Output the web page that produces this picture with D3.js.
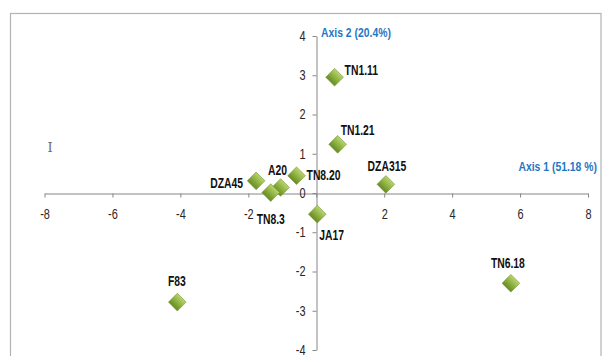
<!DOCTYPE html>
<html>
<head>
<meta charset="utf-8">
<script src="https://cdn.jsdelivr.net/npm/d3@7"></script>
<style>
  body { margin: 0; background: #fff; }
  svg { display: block; }
  text { font-family: "Liberation Sans", Arial, sans-serif; }
</style>
</head>
<body>
<svg id="chart" width="603" height="356"></svg>
<script>
// sample names and their coordinates on the two factorial axes
const samples = ["TN1.11", "TN1.21", "DZA315", "TN8.20", "A20", "DZA45", "TN8.3", "JA17", "F83", "TN6.18"];
const axis1 = [0.54, 0.63, 2.05, -0.58, -1.05, -1.77, -1.34, 0.03, -4.09, 5.73];
const axis2 = [2.95, 1.24, 0.22, 0.44, 0.14, 0.31, 0.01, -0.54, -2.78, -2.30];
const xTicks = [-8, -6, -4, -2, 0, 2, 4, 6, 8];
const yTicks = [-4, -3, -2, -1, 0, 1, 2, 3, 4];
const xTitle = "Axis 1 (51.18 %)";
const yTitle = "Axis 2 (20.4%)";

const svg = d3.select("#chart");

const x = d3.scaleLinear().domain([-8, 8]).range([44.5, 588]);
const y = d3.scaleLinear().domain([-4, 4]).range([350, 36]);

// squeeze a text horizontally, the source font is a narrow one
function condense(sel, k) {
    sel.each(function () {
        const w = this.getComputedTextLength();
        d3.select(this).attr("textLength", w * k).attr("lengthAdjust", "spacingAndGlyphs");
    });
}

// chart frame
svg.append("rect")
    .attr("x", 10.5).attr("y", 13.5)
    .attr("width", 590.5).attr("height", 360)
    .attr("fill", "none").attr("stroke", "#b3b3b3").attr("stroke-width", 1.2);

// gradient for the diamond markers
const defs = svg.append("defs");
const grad = defs.append("linearGradient").attr("id", "green")
    .attr("x1", "0").attr("y1", "0").attr("x2", "0").attr("y2", "1");
grad.append("stop").attr("offset", "0%").attr("stop-color", "#b8d470");
grad.append("stop").attr("offset", "50%").attr("stop-color", "#8fb240");
grad.append("stop").attr("offset", "100%").attr("stop-color", "#678a26");

const fmt = d => String(d);

// x axis through y = 0
const xAxis = svg.append("g")
    .attr("transform", `translate(0,${Math.round(y(0)) + 0.5})`)
    .call(d3.axisBottom(x).tickValues(xTicks).tickFormat(fmt).tickSize(4).tickSizeOuter(0).tickPadding(12));
// y axis through x = 0
const yAxis = svg.append("g")
    .attr("transform", `translate(${Math.round(x(0)) + 0.5},0)`)
    .call(d3.axisLeft(y).tickValues(yTicks).tickFormat(fmt).tickSize(4).tickSizeOuter(0).tickPadding(7));

[xAxis, yAxis].forEach(g => {
    g.select(".domain").attr("stroke", "#868686");
    g.selectAll(".tick line").attr("stroke", "#868686");
    g.selectAll(".tick text")
        .attr("fill", "#262626")
        .style("font-size", "14px")
        .style("font-family", "'Liberation Sans', Arial, sans-serif")
        .call(condense, 0.78);
});

// axis titles
svg.append("text").attr("x", 321).attr("y", 37)
    .attr("fill", "#1f77c4").style("font-size", "13.5px").style("font-weight", "bold")
    .text(yTitle).call(condense, 0.77);
svg.append("text").attr("x", 597).attr("y", 171).attr("text-anchor", "end")
    .attr("fill", "#1f77c4").style("font-size", "13.5px").style("font-weight", "bold")
    .text(xTitle).call(condense, 0.77);

// stray cursor glyph in the source picture
svg.append("text").attr("x", 50).attr("y", 152).attr("text-anchor", "middle")
    .style("font-family", "'DejaVu Serif', serif").style("font-size", "13px")
    .attr("fill", "#6b6b6b").text("I");

const points = samples.map((s, i) => ({ name: s, a1: axis1[i], a2: axis2[i] }));

const diamond = d3.symbol(d3.symbolSquare).size(156);
svg.append("g").selectAll("path")
    .data(points)
    .join("path")
    .attr("d", diamond)
    .attr("transform", d => `translate(${x(d.a1)},${y(d.a2)}) rotate(45)`)
    .attr("fill", "url(#green)")
    .attr("stroke", "#759636").attr("stroke-width", 0.6);

// where each label sits relative to its marker
const place = {
    "TN1.11": [10, -7, "start"],
    "TN1.21": [3, -14, "start"],
    "DZA315": [1, -18, "middle"],
    "TN8.20": [10, -1, "start"],
    "A20": [-3, -17, "middle"],
    "DZA45": [-13, 2.5, "end"],
    "TN8.3": [0, 26.5, "middle"],
    "JA17": [2, 21, "start"],
    "F83": [-0.5, -21.5, "middle"],
    "TN6.18": [-3, -20.5, "middle"]
};

svg.append("g").selectAll("text")
    .data(points)
    .join("text")
    .attr("x", d => x(d.a1) + place[d.name][0])
    .attr("y", d => y(d.a2) + place[d.name][1])
    .attr("dy", "0.35em")
    .attr("text-anchor", d => place[d.name][2])
    .attr("fill", "#111")
    .style("font-size", "14px").style("font-weight", "bold")
    .text(d => d.name)
    .call(condense, 0.74);
</script>
</body>
</html>
